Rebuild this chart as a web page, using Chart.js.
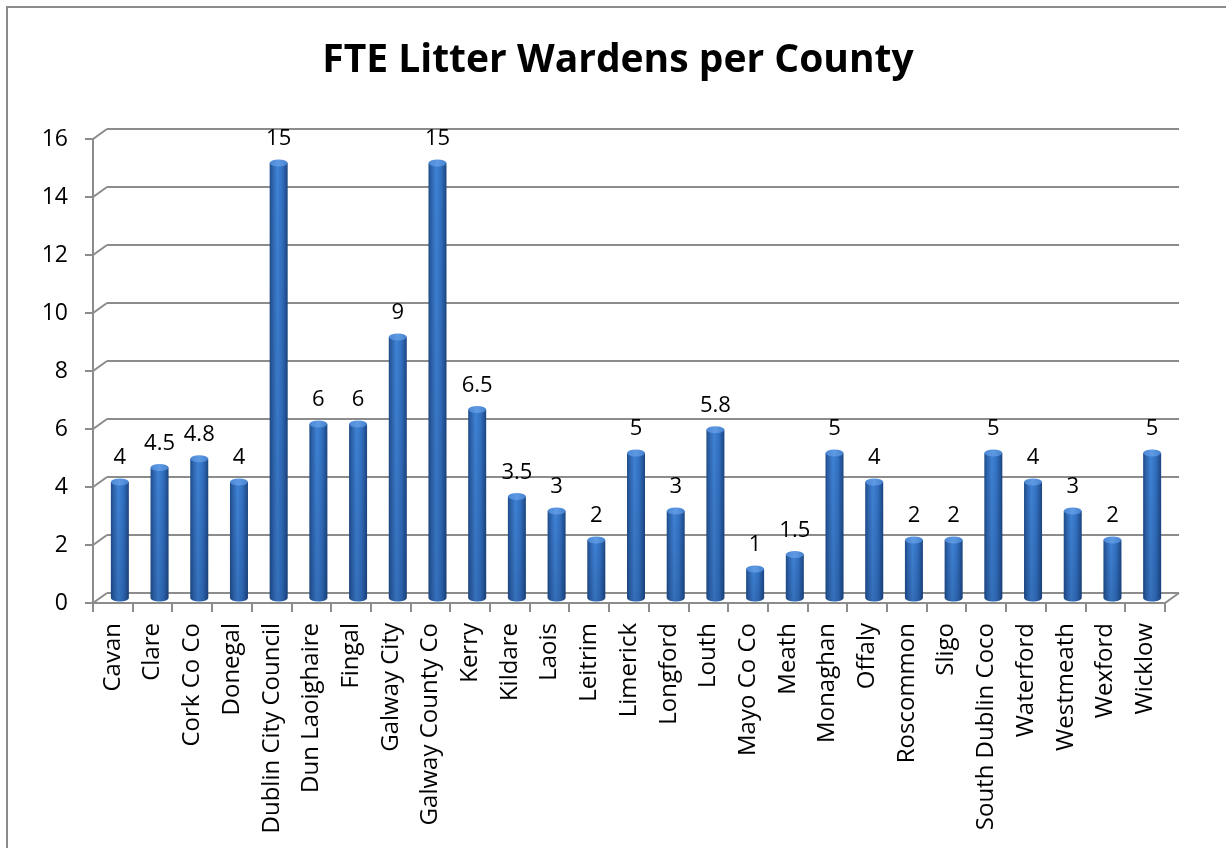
<!DOCTYPE html>
<html>
<head>
<meta charset="utf-8">
<title>FTE Litter Wardens per County</title>
<script src="https://cdn.jsdelivr.net/npm/chart.js@4/dist/chart.umd.min.js"></script>
<style>
  html, body { margin: 0; padding: 0; background: #ffffff; }
  canvas { display: block; }
</style>
</head>
<body>
<canvas id="chart" width="1226" height="848" style="width:1226px;height:848px"></canvas>
<script>
// Councils and their full-time-equivalent litter wardens
const categories = [
  'Cavan', 'Clare', 'Cork Co Co', 'Donegal', 'Dublin City Council',
  'Dun Laoighaire', 'Fingal', 'Galway City', 'Galway County Co', 'Kerry',
  'Kildare', 'Laois', 'Leitrim', 'Limerick', 'Longford', 'Louth',
  'Mayo Co Co', 'Meath', 'Monaghan', 'Offaly', 'Roscommon', 'Sligo',
  'South Dublin Coco', 'Waterford', 'Westmeath', 'Wexford', 'Wicklow'
];
const wardens = [
  4, 4.5, 4.8, 4, 15,
  6, 6, 9, 15, 6.5,
  3.5, 3, 2, 5, 3, 5.8,
  1, 1.5, 5, 4, 2, 2,
  5, 4, 3, 2, 5
];
const yMin = 0;
const yMax = 16;
const yStep = 2;
const chartTitle = 'FTE Litter Wardens per County';

// pseudo-3D depth of the plot box (back wall offset from the front edge)
const DEPTH_X = 14;
const DEPTH_Y = -10;
const GRID = '#8c8c8c';
const FONT = '"Open Sans", "Liberation Sans", sans-serif';

const frame = {
  id: 'frame',
  beforeDraw(chart) {
    const ctx = chart.ctx;
    ctx.save();
    ctx.fillStyle = '#ffffff';
    ctx.fillRect(0, 0, chart.width, chart.height);
    ctx.strokeStyle = GRID;
    ctx.lineWidth = 2;
    ctx.strokeRect(7, 7, chart.width + 20, chart.height + 20);
    // title
    ctx.fillStyle = '#000000';
    ctx.font = 'bold 39px ' + FONT;
    ctx.textAlign = 'center';
    ctx.textBaseline = 'alphabetic';
    ctx.fillText(chartTitle, 618, 72);
    ctx.restore();
  },
  beforeDatasetsDraw(chart) {
    const ctx = chart.ctx;
    const y = chart.scales.y;
    const area = chart.chartArea;
    ctx.save();
    ctx.strokeStyle = GRID;
    ctx.lineWidth = 2;
    ctx.lineCap = 'butt';
    for (let v = yMin; v <= yMax; v += yStep) {
      const yf = Math.round(y.getPixelForValue(v));
      const yb = yf + DEPTH_Y;
      ctx.beginPath();
      // back wall gridline
      ctx.moveTo(area.left + DEPTH_X, yb);
      ctx.lineTo(area.right + DEPTH_X, yb);
      // tick on the front axis and its link to the back wall
      ctx.moveTo(area.left - 8, yf);
      ctx.lineTo(area.left, yf);
      ctx.lineTo(area.left + DEPTH_X, yb);
      ctx.stroke();
    }
    // front value axis
    ctx.beginPath();
    ctx.moveTo(area.left, area.top);
    ctx.lineTo(area.left, area.bottom);
    // front floor edge and its right-hand return
    ctx.lineTo(area.right, area.bottom);
    ctx.lineTo(area.right + DEPTH_X, area.bottom + DEPTH_Y);
    ctx.stroke();
    // category tick marks
    const n = categories.length;
    const w = (area.right - area.left) / n;
    ctx.beginPath();
    for (let i = 0; i <= n; i++) {
      const px = Math.round(area.left + i * w);
      ctx.moveTo(px, area.bottom);
      ctx.lineTo(px, area.bottom + 9);
    }
    ctx.stroke();
    ctx.restore();
  },
  afterDatasetsDraw(chart) {
    const ctx = chart.ctx;
    const meta = chart.getDatasetMeta(0);
    ctx.save();
    meta.data.forEach((bar, i) => {
      const cx = bar.x + DEPTH_X / 2;
      const top = bar.y + DEPTH_Y / 2;
      const bottom = bar.base + DEPTH_Y / 2;
      const rx = bar.width / 2;
      const ry = 3.5;
      // cylinder body
      const g = ctx.createLinearGradient(cx - rx, 0, cx + rx, 0);
      g.addColorStop(0, '#1f4c88');
      g.addColorStop(0.18, '#2f66b0');
      g.addColorStop(0.42, '#3f82d4');
      g.addColorStop(0.7, '#3270c0');
      g.addColorStop(1, '#1c4580');
      ctx.beginPath();
      ctx.moveTo(cx - rx, top);
      ctx.lineTo(cx - rx, bottom);
      ctx.ellipse(cx, bottom, rx, ry, 0, Math.PI, 0, true);
      ctx.lineTo(cx + rx, top);
      ctx.closePath();
      ctx.fillStyle = g;
      ctx.fill();
      // slight darkening toward the floor
      const v = ctx.createLinearGradient(0, top, 0, bottom + ry);
      v.addColorStop(0, 'rgba(10,30,70,0)');
      v.addColorStop(1, 'rgba(10,30,70,0.18)');
      ctx.fillStyle = v;
      ctx.fill();
      // cylinder cap
      const c = ctx.createLinearGradient(cx - rx, 0, cx + rx, 0);
      c.addColorStop(0, '#4a86d2');
      c.addColorStop(0.5, '#5e9ae4');
      c.addColorStop(1, '#4580cc');
      ctx.beginPath();
      ctx.ellipse(cx, top, rx, ry, 0, 0, Math.PI * 2);
      ctx.fillStyle = c;
      ctx.fill();
      // value label
      ctx.fillStyle = '#000000';
      ctx.font = '22px ' + FONT;
      ctx.textAlign = 'center';
      ctx.textBaseline = 'middle';
      ctx.fillText(String(wardens[i]), cx, top - 24);
    });
    ctx.restore();
  }
};

new Chart(document.getElementById('chart'), {
  type: 'bar',
  data: {
    labels: categories,
    datasets: [{
      label: 'FTE Litter Wardens',
      data: wardens,
      backgroundColor: 'rgba(0,0,0,0)',
      borderWidth: 0,
      barThickness: 18
    }]
  },
  options: {
    responsive: false,
    animation: false,
    devicePixelRatio: 1,
    layout: { padding: { top: 139, right: 61, left: 0, bottom: 0 } },
    plugins: {
      legend: { display: false },
      tooltip: { enabled: false },
      title: { display: false }
    },
    scales: {
      x: {
        type: 'category',
        offset: true,
        grid: { display: false, drawTicks: false },
        border: { display: false },
        ticks: {
          autoSkip: false,
          minRotation: 90,
          maxRotation: 90,
          padding: 20,
          color: '#000000',
          font: { family: FONT, size: 24 }
        },
        afterFit(s) { s.height = 245; }
      },
      y: {
        min: yMin,
        max: yMax,
        grid: { display: false, drawTicks: false },
        border: { display: false },
        ticks: {
          stepSize: yStep,
          padding: 25,
          color: '#000000',
          font: { family: FONT, size: 23 }
        },
        afterFit(s) { s.width = 93; }
      }
    }
  },
  plugins: [frame]
});
</script>
</body>
</html>
